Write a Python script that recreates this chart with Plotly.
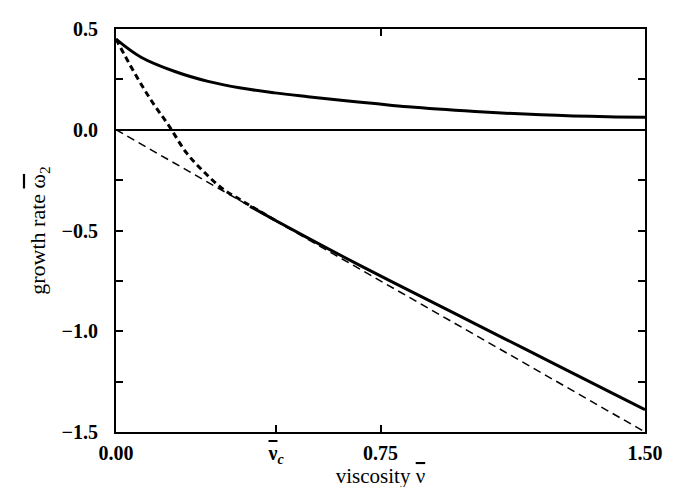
import plotly.graph_objects as go

# upper solid branch
nu_upper = [0.0, 0.071, 0.167, 0.261, 0.354, 0.45, 0.544, 0.638, 0.734, 0.828, 1.018, 1.205, 1.395, 1.5]
w_upper = [0.45, 0.36, 0.289, 0.240, 0.207, 0.183, 0.164, 0.146, 0.130, 0.114, 0.091, 0.074, 0.064, 0.062]

# bold dashed approximation
nu_bold_dash = [0.0, 0.05, 0.10, 0.15, 0.20, 0.25, 0.30, 0.35, 0.40, 0.45]
w_bold_dash = [0.45, 0.29, 0.145, 0.02, -0.115, -0.21, -0.29, -0.345, -0.397, -0.448]

# lower solid branch
nu_lower = [0.38, 0.45, 0.55, 0.686, 0.828, 0.97, 1.111, 1.25, 1.40, 1.50]
w_lower = [-0.380, -0.448, -0.543, -0.668, -0.795, -0.920, -1.045, -1.168, -1.301, -1.389]

# thin dashed asymptote
nu_asym = [0.0, 1.5]
w_asym = [0.0, -1.5]

nu_c = 0.454
x_tickvals = [0.0, nu_c, 0.75, 1.5]
x_ticktext = ["0.00",
              "<span style='text-decoration:overline'><b>ν</b></span><sub><i>c</i></sub>",
              "0.75", "1.50"]
y_tickvals = [-1.5, -1.0, -0.5, 0.0, 0.5]
y_ticktext = ["\u22121.5", "\u22121.0", "\u22120.5", "0.0", "0.5"]
y_minor_vals = [-1.25, -0.75, -0.25, 0.25]

FONT = "Liberation Serif"

fig = go.Figure()
fig.add_trace(go.Scatter(x=nu_asym, y=w_asym, mode="lines",
                         line=dict(color="black", width=1.5, dash="8px,5px")))
fig.add_trace(go.Scatter(x=nu_bold_dash, y=w_bold_dash, mode="lines", line_shape="spline",
                         line=dict(color="black", width=3, dash="6px,4px")))
fig.add_trace(go.Scatter(x=nu_lower, y=w_lower, mode="lines", line_shape="spline",
                         line=dict(color="black", width=3)))
fig.add_trace(go.Scatter(x=nu_upper, y=w_upper, mode="lines", line_shape="spline",
                         line=dict(color="black", width=3)))
# top-axis tick helper trace
fig.add_trace(go.Scatter(x=[0.75], y=[0.5], xaxis="x2", mode="none", showlegend=False, hoverinfo="skip"))

fig.update_layout(
    width=680, height=487,
    margin=dict(l=108, r=43, t=10, b=63),
    paper_bgcolor="white", plot_bgcolor="white",
    showlegend=False,
    font=dict(family=FONT, color="black", size=21),
    xaxis=dict(range=[0, 1.5], tickvals=x_tickvals, ticktext=x_ticktext,
               ticks="inside", ticklen=7, tickwidth=2, tickcolor="black",
               showline=True, linewidth=2, linecolor="black", mirror=True,
               showgrid=False, zeroline=False,
               tickfont=dict(family=FONT, size=20, weight="bold"),
               ticklabelstandoff=2,
               title=dict(text="viscosity <span style='text-decoration:overline'>ν</span>",
                          font=dict(family=FONT, size=21), standoff=0)),
    xaxis2=dict(range=[0, 1.5], overlaying="x", side="top", tickvals=[0.75],
                ticks="inside", ticklen=7, tickwidth=2, tickcolor="black",
                showticklabels=False, showgrid=False, zeroline=False, showline=False),
    yaxis=dict(range=[-1.5, 0.5], tickvals=y_tickvals, ticktext=y_ticktext,
               ticks="inside", ticklen=7, tickwidth=2, tickcolor="black",
               minor=dict(tickvals=y_minor_vals, ticks="inside", ticklen=7, tickwidth=2, tickcolor="black"),
               showline=True, linewidth=2, linecolor="black", mirror="ticks",
               showgrid=False, zeroline=True, zerolinewidth=2, zerolinecolor="black",
               tickfont=dict(family=FONT, size=20, weight="bold"),
               ticklabelstandoff=12,
               title=dict(text="growth rate <span style='text-decoration:overline'>ω</span><sub>2</sub>",
                          font=dict(family=FONT, size=22), standoff=10)),
)

fig.write_html("out.html")
